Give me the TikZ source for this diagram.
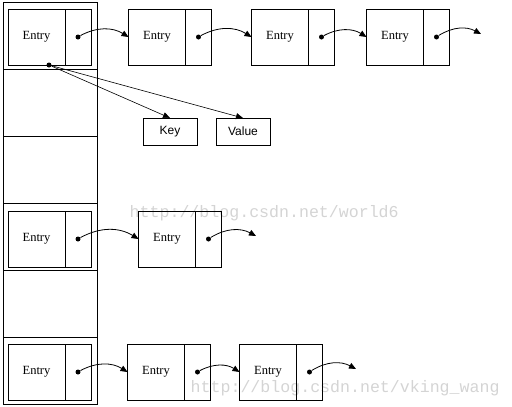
\documentclass[tikz,border=0pt]{standalone}
\usepackage{fontspec}
\setmainfont{Liberation Serif}
\newfontfamily\keyfont{Liberation Sans}
\newfontfamily\markfont{Liberation Mono}
\usetikzlibrary{arrows.meta, positioning}

\tikzset{
entry/.style={draw, outer sep=0pt, inner sep=0pt, minimum width=57pt, minimum height=56pt, font=\fontsize{12.5}{12.5}\selectfont},
ptr/.style={draw, outer sep=0pt, inner sep=0pt, minimum width=26pt, minimum height=56pt},
field/.style={draw, outer sep=0pt, inner sep=0pt, minimum width=54pt, minimum height=27pt, font=\keyfont\fontsize{12}{12}\selectfont},
dot/.style={circle, fill, inner sep=0pt, minimum size=5pt},
link/.style={-{Triangle[length=7pt, width=6pt]}, bend left=30},
watermark/.style={anchor=west, text=black!17, font=\markfont\fontsize{16.6}{16.6}\selectfont}
}

\begin{document}
\begin{tikzpicture}[x=1pt, y=-1pt, line width=0.8pt]
\useasboundingbox (0,0) rectangle (512,407);
\node[watermark] (wm1) at (126,213) {http://blog.csdn.net/world6};
\node[watermark] (wm2) at (187,388) {http://blog.csdn.net/vking\_wang};
% table
\draw (3,2) rectangle (97,404);
\foreach \y in {69, 136, 203, 270, 337} {
\draw (3,\y) -- (97,\y);
}
% first row
\node[entry] (a0) at (36.5,37) {Entry};
\node[ptr, right=0pt of a0] (pa0) {};
\node[entry] (a1) at (157,37) {Entry};
\node[ptr, right=0pt of a1] (pa1) {};
\node[entry] (a2) at (280,37) {Entry};
\node[ptr, right=0pt of a2] (pa2) {};
\node[entry] (a3) at (395,37) {Entry};
\node[ptr, right=0pt of a3] (pa3) {};
\coordinate (aend) at (481,34);
\node[dot] (da0) at (pa0.center) {};
\node[dot] (da1) at (pa1.center) {};
\node[dot] (da2) at (pa2.center) {};
\node[dot] (da3) at (pa3.center) {};
\draw[link] (da0) to (a1.west);
\draw[link] (da1) to (a2.west);
\draw[link] (da2) to (a3.west);
\draw[link] (da3) to (aend);
% key and value
\node[field] (key) at (170,131.5) {Key};
\node[field] (val) at (243,131.5) {Value};
\node[dot] (kv) at (49,65) {};
\draw[-{Triangle[length=7pt, width=6pt]}, line width=0.6pt] (kv) -- (key.north);
\draw[-{Triangle[length=7pt, width=6pt]}, line width=0.6pt] (kv) -- (val.north);
% fourth row
\node[entry] (b0) at (36.5,239) {Entry};
\node[ptr, right=0pt of b0] (pb0) {};
\node[entry] (b1) at (167,239) {Entry};
\node[ptr, right=0pt of b1] (pb1) {};
\coordinate (bend) at (256,236);
\node[dot] (db0) at (pb0.center) {};
\node[dot] (db1) at (pb1.center) {};
\draw[link] (db0) to (b1.west);
\draw[link] (db1) to (bend);
% last row
\node[entry] (c0) at (36.5,372) {Entry};
\node[ptr, right=0pt of c0] (pc0) {};
\node[entry] (c1) at (156,372) {Entry};
\node[ptr, right=0pt of c1] (pc1) {};
\node[entry] (c2) at (268,372) {Entry};
\node[ptr, right=0pt of c2] (pc2) {};
\coordinate (cend) at (356,369);
\node[dot] (dc0) at (pc0.center) {};
\node[dot] (dc1) at (pc1.center) {};
\node[dot] (dc2) at (pc2.center) {};
\draw[link] (dc0) to (c1.west);
\draw[link] (dc1) to (c2.west);
\draw[link] (dc2) to (cend);
\end{tikzpicture}
\end{document}
